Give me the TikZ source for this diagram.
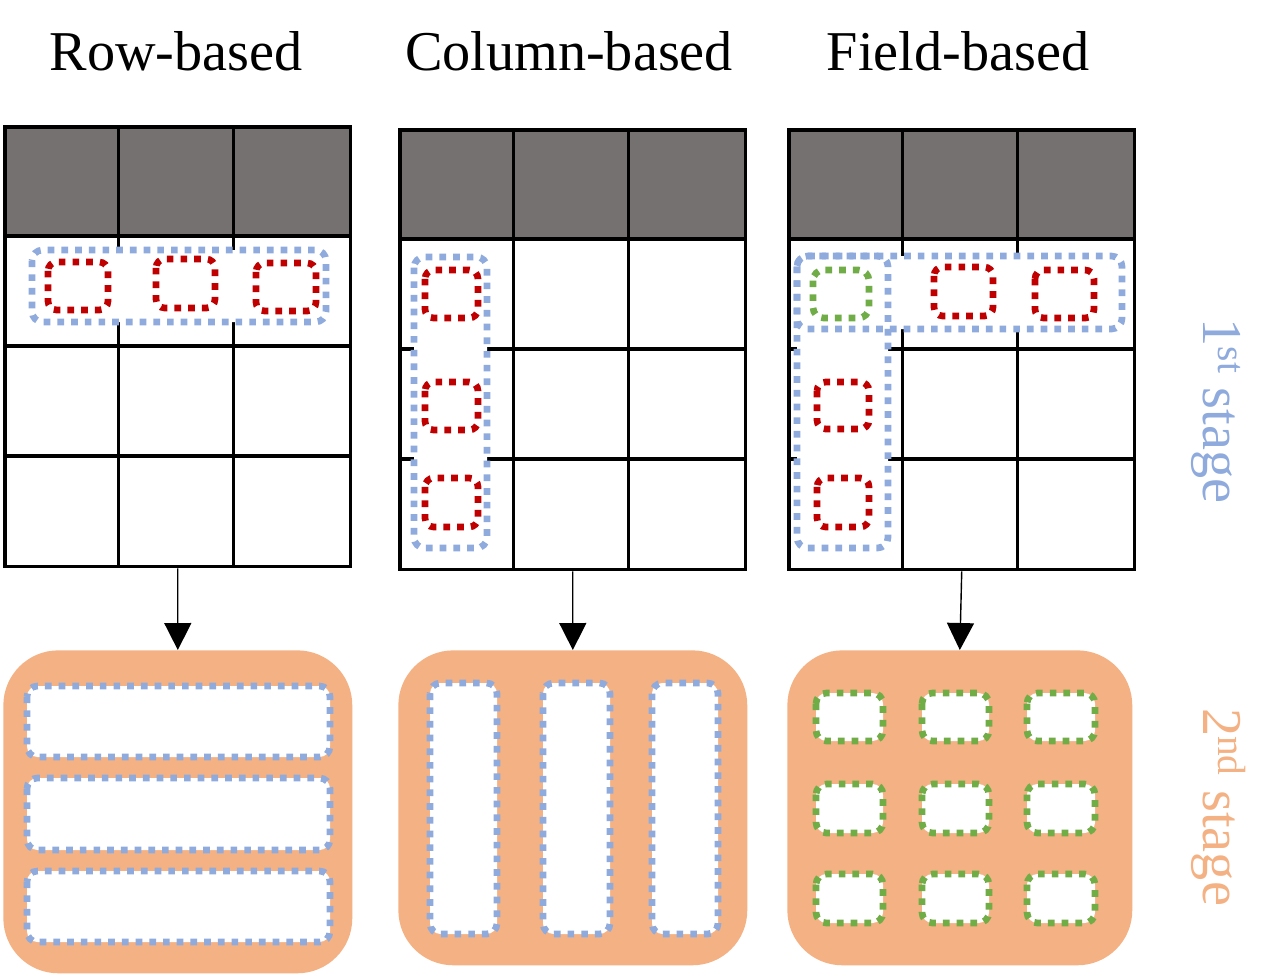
\documentclass[tikz,border=0pt]{standalone}
\usepackage{fontspec}
\setmainfont{Liberation Serif}
\usetikzlibrary{arrows.meta}
\definecolor{hdr}{HTML}{767171}
\definecolor{bl}{HTML}{8FAADC}
\definecolor{rd}{HTML}{C00000}
\definecolor{gr}{HTML}{70AD47}
\definecolor{org}{HTML}{F4B183}
\newcommand{\tgrid}[3]{%
  \fill[hdr] (#2,#3) rectangle ++(346,111);
  \foreach \i in {1,2} \draw[gridl] ({#2+\i*115.33},#3) -- ++(0,440);
  \foreach \j in {111,221,331} \draw[gridl] (#2,{#3+\j}) -- ++(346,0);
  \node[tbl, anchor=north west] (#1) at (#2,#3) {};
}
\begin{document}
\begin{tikzpicture}[x=0.02cm,y=-0.02cm,
  gridl/.style={line width=2pt, black},
  tbl/.style={draw=black, line width=2pt, minimum width=6.92cm, minimum height=8.8cm, inner sep=0pt},
  dotb/.style={draw=bl, fill=white, line width=3.8pt, dash pattern=on 3.8pt off 4pt, rounded corners=6pt},
  dotr/.style={draw=rd, fill=white, line width=3.8pt, dash pattern=on 3.8pt off 4pt, rounded corners=5pt},
  dotg/.style={draw=gr, fill=white, line width=3.8pt, dash pattern=on 3.8pt off 4pt, rounded corners=6pt},
  stagebox/.style={fill=org, rounded corners=1.1cm, inner sep=0pt, anchor=north west},
  arr/.style={line width=0.8pt, -{Triangle[length=0.54cm, width=0.54cm]}},
  ttl/.style={font=\fontsize{32}{38}\selectfont, anchor=base},
  stg/.style={font=\fontsize{32}{38}\selectfont, anchor=base, rotate=-90}
]
\useasboundingbox (0,0) rectangle (1275,974);

% titles
\node[ttl] (h1) at (176,70) {Row-based};
\node[ttl] (h2) at (569,70) {Column-based};
\node[ttl] (h3) at (958,70) {Field-based};

% tables
\tgrid{t1}{3}{125}
\tgrid{t2}{398}{128}
\tgrid{t3}{787}{128}

% table 1 marks
\draw[dotb] (32,250) rectangle (326,322);
\draw[dotr] (48,262) rectangle (108,310);
\draw[dotr] (156,259) rectangle (215,308);
\draw[dotr] (256,263) rectangle (316,311);

% table 2 marks
\draw[dotb] (414,257) rectangle (487,548);
\draw[dotr] (425,270) rectangle (478,318);
\draw[dotr] (425,382) rectangle (478,430);
\draw[dotr] (425,478) rectangle (478,527);

% table 3 marks
\fill[white, rounded corners=6pt] (797,256) rectangle (1122,329);
\fill[white, rounded corners=6pt] (797,256) rectangle (888,548);
\draw[dotb, fill=none] (797,256) rectangle (1122,329);
\draw[dotb, fill=none] (797,256) rectangle (888,548);
\draw[dotg] (813,270) rectangle (869,318);
\draw[dotr] (934,267) rectangle (993,316);
\draw[dotr] (1035,270) rectangle (1094,318);
\draw[dotr] (817,382) rectangle (869,429);
\draw[dotr] (817,478) rectangle (869,527);

% second stage boxes
\node[stagebox, minimum width=6.98cm, minimum height=6.46cm] (s1) at (3,650) {};
\node[stagebox, minimum width=6.98cm, minimum height=6.3cm] (s2) at (398,650) {};
\node[stagebox, minimum width=6.9cm, minimum height=6.3cm] (s3) at (787,650) {};

\draw[dotb] (27,686) rectangle (330,757);
\draw[dotb] (27,778) rectangle (330,850);
\draw[dotb] (27,871) rectangle (330,942);

\draw[dotb] (430,683) rectangle (497,934);
\draw[dotb] (543,683) rectangle (610,934);
\draw[dotb] (652,683) rectangle (718,934);

\foreach \xa/\xb in {816/883, 922/989, 1027/1095}
  \foreach \ya/\yb in {693/741, 784/833, 874/923}
    \draw[dotg] (\xa,\ya) rectangle (\xb,\yb);

% arrows
\draw[arr] (t1.south) -- (s1.north);
\draw[arr] (t2.south) -- (s2.north);
\draw[arr] (t3.south) -- (s3.north);

% stage labels
\node[stg, text=bl] (l1) at (1203,411) {1\textsuperscript{st} stage};
\node[stg, text=org] (l2) at (1203,807) {2\textsuperscript{nd} stage};
\end{tikzpicture}
\end{document}
